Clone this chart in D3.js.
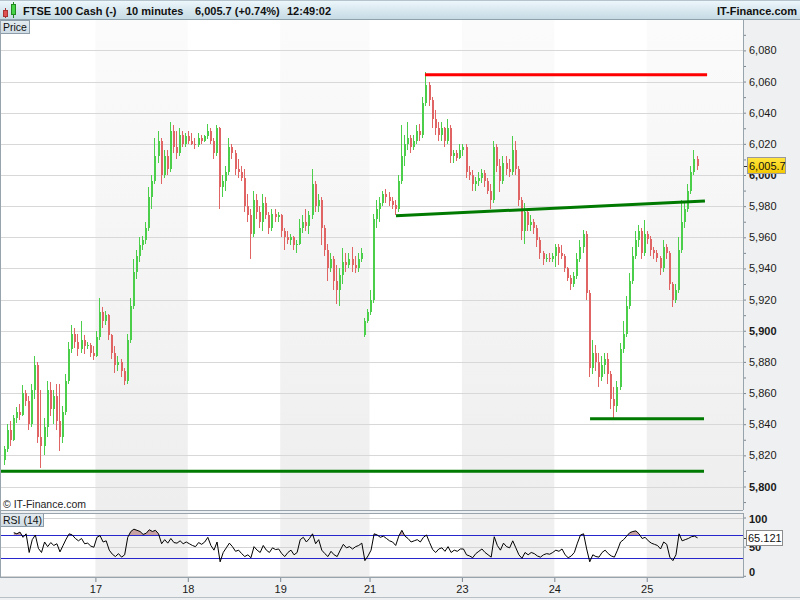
<!DOCTYPE html>
<html><head><meta charset="utf-8">
<script src="https://cdn.jsdelivr.net/npm/d3@7"></script>
<style>
body{margin:0;background:#fff}
svg{display:block;font-family:"Liberation Sans",Arial,sans-serif}
</style>
</head><body><svg id="c" width="800" height="600"></svg>
<script>
// ---------------- DATA ----------------
const opens = [
5817,5824,5836,5830,5844,5848,5846,5860,5855,5840,5862,5878,5832,5826,5838,5862,5850,5858,5842,5832,5848,5868,5888,5898,5893,5888,5894,5890,5891,5886,
5884,5896,5912,5906,5910,5897,5886,5878,5880,5874,5868,5894,5916,5938,5948,5955,5958,5966,5986,5996,6012,6022,6000,6012,6004,6028,6018,6014,6026,6020,
6025,6022,6020,6019,6024,6022,6025,6028,6022,6014,6030,5992,5996,6002,6018,6014,6004,6002,5998,5980,5974,5962,5984,5976,5970,5982,5974,5966,5975,5973,
5974,5964,5960,5958,5960,5955,5956,5966,5970,5967,5974,5994,5980,5984,5966,5952,5940,5946,5932,5926,5936,5944,5942,5946,5942,5940,5946,5897,5906,
5912,5920,5972,5978,5982,5988,5986,5983,5981,5978,5996,6012,6020,6024,6018,6022,6028,6026,6046,6058,6048,6036,6030,6026,6030,6022,6030,6012,6014,6011,
6016,6018,6002,6000,5994,5996,5998,6001,5996,5990,5984,6018,6006,5996,6008,6004,6002,6016,6004,5984,5964,5976,5968,5970,5966,5958,5950,5946,5947,5946,
5948,5954,5950,5948,5940,5934,5930,5935,5946,5954,5962,5924,5876,5886,5880,5870,5878,5882,5872,5856,5852,5864,5888,5898,5916,5932,5948,5958,5964,5950,
5962,5959,5952,5950,5947,5940,5954,5950,5930,5920,5926,5952,5970,5978,5990,6002,6010
];
const highs = [
5826,5840,5842,5846,5851,5853,5865,5862,5858,5866,5884,5880,5862,5844,5868,5867,5862,5866,5866,5852,5872,5893,5904,5902,5898,5906,5897,5893,5892,5890,
5900,5921,5915,5913,5911,5898,5890,5884,5882,5876,5898,5921,5946,5952,5960,5961,5970,5992,6000,6024,6028,6024,6016,6016,6034,6032,6028,6030,6028,6027,
6028,6027,6024,6027,6026,6026,6033,6030,6024,6032,6031,6000,6006,6024,6020,6016,6010,6006,6004,5988,5978,5990,5988,5980,5988,5986,5976,5978,5978,5976,
5975,5966,5964,5962,5961,5958,5972,5974,5978,5977,6004,5996,5988,5986,5968,5956,5950,5948,5942,5940,5953,5950,5950,5954,5948,5950,5953,5908,5914,
5926,5975,5984,5986,5990,5991,5989,5986,5984,6000,6032,6026,6034,6026,6026,6032,6033,6050,6066,6060,6050,6042,6034,6034,6031,6036,6032,6016,6016,6020,
6020,6020,6006,6003,5999,6002,6004,6003,5998,5994,6022,6020,6010,6012,6012,6010,6025,6022,6006,5986,5982,5978,5974,5972,5968,5960,5951,5949,5950,5950,
5956,5956,5955,5949,5941,5936,5938,5950,5958,5965,5964,5926,5894,5891,5886,5884,5886,5886,5874,5864,5868,5892,5906,5922,5937,5954,5964,5968,5966,5971,
5964,5961,5954,5952,5948,5958,5956,5951,5931,5930,5960,5984,5982,5994,6006,6016,6012
];
const lows = [
5814,5822,5826,5829,5841,5843,5845,5852,5836,5838,5856,5828,5812,5820,5832,5845,5840,5836,5823,5828,5846,5866,5886,5889,5884,5886,5885,5888,5883,5881,
5883,5894,5902,5904,5894,5882,5873,5874,5870,5865,5866,5892,5914,5933,5944,5952,5956,5964,5978,5994,6008,5994,5998,6000,6002,6014,6010,6012,6018,6018,
6020,6019,6017,6018,6020,6021,6023,6020,6010,6012,5978,5986,5990,6000,6010,6000,5998,5996,5976,5970,5946,5960,5972,5966,5964,5972,5962,5964,5970,5970,
5960,5952,5956,5955,5952,5950,5955,5963,5964,5962,5972,5976,5976,5955,5948,5932,5938,5926,5917,5916,5930,5938,5940,5938,5937,5938,5944,5896,5905,
5910,5918,5966,5970,5980,5982,5980,5978,5974,5976,5994,6006,6016,6014,6016,6020,6022,6024,6044,6044,6030,6026,6022,6022,6018,6020,6008,6008,6009,6010,
6012,5998,5997,5990,5990,5993,5995,5992,5988,5978,5982,6002,5989,5994,6000,5999,6000,6000,5980,5958,5956,5964,5964,5962,5954,5946,5942,5944,5944,5944,
5941,5942,5946,5938,5932,5926,5928,5933,5944,5950,5920,5870,5872,5874,5864,5868,5872,5866,5850,5843,5848,5862,5886,5896,5914,5930,5946,5954,5946,5948,
5956,5948,5946,5944,5936,5938,5946,5926,5915,5918,5924,5950,5966,5976,5988,6000,6003
];
const closes = [
5824,5836,5830,5844,5848,5846,5860,5855,5840,5862,5878,5832,5826,5838,5862,5850,5858,5842,5832,5848,5868,5888,5898,5893,5888,5894,5890,5891,5886,5884,
5896,5912,5906,5910,5897,5886,5878,5880,5874,5868,5894,5916,5938,5948,5955,5958,5966,5986,5996,6012,6022,6000,6012,6004,6028,6018,6014,6026,6020,6025,
6022,6020,6019,6024,6022,6025,6028,6022,6014,6030,5992,5996,6002,6018,6014,6004,6002,5998,5980,5974,5962,5984,5976,5970,5982,5974,5966,5975,5973,5974,
5964,5960,5958,5960,5955,5956,5966,5970,5967,5974,5994,5980,5984,5966,5952,5940,5946,5932,5926,5936,5944,5942,5946,5942,5940,5946,5950,5906,5912,
5920,5972,5978,5982,5988,5986,5983,5981,5978,5996,6012,6020,6024,6018,6022,6028,6026,6046,6058,6048,6036,6030,6026,6030,6022,6030,6012,6014,6011,6016,
6018,6002,6000,5994,5996,5998,6001,5996,5990,5984,6018,6006,5996,6008,6004,6002,6016,6004,5984,5964,5976,5968,5970,5966,5958,5950,5946,5947,5946,5948,
5954,5950,5948,5940,5934,5930,5935,5946,5954,5962,5924,5876,5886,5880,5870,5878,5882,5872,5856,5852,5864,5888,5898,5916,5932,5948,5958,5964,5950,5962,
5959,5952,5950,5947,5940,5954,5950,5930,5920,5926,5952,5970,5978,5990,6002,6010,6005.7
];
const rsiValues = [
null,null,null,74,72,75,66,72,40,62,70,47,40,58,50,57,52,55,41,52,
63,72,70,64,60,64,55,56,51,49,66,69,58,60,44,37,33,38,32,36,
66,76,80,78,76,71,73,79,76,78,72,55,62,56,64,57,56,60,55,58,
55,52,50,57,54,58,66,52,44,58,24,40,48,56,50,42,44,38,33,36,
31,50,44,40,52,44,40,48,45,46,38,33,40,44,36,40,62,66,58,64,
72,55,62,44,38,33,42,36,33,44,54,48,50,46,50,52,56,26,34,44,
72,70,66,68,64,60,58,52,68,78,68,64,58,60,62,58,66,70,57,45,
40,46,48,42,50,40,44,42,46,46,36,34,31,38,42,46,40,36,32,67,
52,44,56,50,48,60,48,36,30,40,36,40,38,34,32,36,38,37,40,44,
42,46,36,31,34,40,56,70,72,46,24,36,33,32,40,44,38,34,32,44,
58,62,68,74,76,77,72,64,66,60,56,54,52,46,58,54,32,26,36,72,
60,62,64,67,68,65.121
];
const dayLabels = ["17","18","19","21","23","24","25"];
const dayStartBars = [30,60,90,119,149,179,209];
const priceTicks = [5800,5820,5840,5860,5880,5900,5920,5940,5960,5980,6000,6020,6040,6060,6080];
const priceMinorTicks = [5790,5810,5830,5850,5870,5890,5910,5930,5950,5970,5990,6010,6030,6050,6070,6090];
const rsiTicks = [0,50,100];
const rsiLevels = [30,70];
// trend lines: [startBar, startPrice, endBar, endPrice]
const resistanceLine = [137.0, 6064.4, 228.6, 6064.4];
const supportLines = [
  [127.6, 5973.8, 227.9, 5983.3],
  [190.6, 5843.5, 227.6, 5843.5],
  [-1.0, 5809.8, 227.6, 5809.8]
];
const lastPrice = 6005.7;
const lastRsi = 65.121;

// ---------------- LAYOUT ----------------
const W = 800, H = 600;
const plotR = 743, mainTop = 20, mainBot = 510, rsiTop = 513, rsiBot = 578;
const svg = d3.select('#c');
const defs = svg.append('defs');

function grad(id, stops){
  const g = defs.append('linearGradient').attr('id', id).attr('x1',0).attr('y1',0).attr('x2',0).attr('y2',1);
  stops.forEach(s => g.append('stop').attr('offset', s[0]).attr('stop-color', s[1]));
}
grad('hdr', [['0%','#eef8fc'],['100%','#c4d9e3']]);
grad('band', [['0%','#fbfbfb'],['100%','#eeeeee']]);
grad('tag', [['0%','#ffe640'],['100%','#f4c800']]);
grad('lbl', [['0%','#e4ecf1'],['100%','#cfdbe3']]);

defs.append('clipPath').attr('id','clipMain').append('rect')
  .attr('x',0).attr('y',mainTop).attr('width',plotR).attr('height',mainBot-mainTop);
defs.append('clipPath').attr('id','clipRsi').append('rect')
  .attr('x',0).attr('y',rsiTop).attr('width',plotR).attr('height',rsiBot-rsiTop);

const x = d3.scaleLinear().domain([0, 240.26]).range([3, 743]);
const y = d3.scaleLinear().domain([5800, 6080]).range([486.5, 50.4]);
const yr = d3.scaleLinear().domain([0, 100]).range([575.8, 517.5]);

defs.append('clipPath').attr('id','clipOB').append('rect')
  .attr('x',0).attr('y',rsiTop).attr('width',plotR).attr('height',yr(70)-rsiTop);

// page background
svg.append('rect').attr('width',W).attr('height',H).attr('fill','#eff0f1');

// header
svg.append('rect').attr('x',0).attr('y',0).attr('width',W).attr('height',20).attr('fill','url(#hdr)');
svg.append('line').attr('x1',0).attr('x2',W).attr('y1',0.5).attr('y2',0.5).attr('stroke','#b5c3cc');
svg.append('line').attr('x1',0).attr('x2',W).attr('y1',19.5).attr('y2',19.5).attr('stroke','#8ea1ad');
// icon
const ic = svg.append('g');
ic.append('line').attr('x1',5.5).attr('x2',5.5).attr('y1',8).attr('y2',18).attr('stroke','#a33');
ic.append('rect').attr('x',3.5).attr('y',10.5).attr('width',4).attr('height',6).attr('fill','#e05252').attr('stroke','#a33');
ic.append('line').attr('x1',13.5).attr('x2',13.5).attr('y1',2).attr('y2',18).attr('stroke','#282');
ic.append('rect').attr('x',11.5).attr('y',4.5).attr('width',4).attr('height',10).attr('fill','#48d448').attr('stroke','#282');

const hdrTexts = [[23,'FTSE 100 Cash (-)'],[126,'10 minutes'],[195,'6,005.7 (+0.74%)'],[287,'12:49:02']];
svg.selectAll('text.hdr').data(hdrTexts).join('text').attr('class','hdr')
  .attr('x',d=>d[0]).attr('y',15).attr('font-size',11).attr('font-weight','bold').attr('fill','#111').text(d=>d[1]);
svg.append('text').attr('x',797).attr('y',15).attr('text-anchor','end').attr('font-size',11)
  .attr('font-weight','bold').attr('fill','#111').text('IT-Finance.com');

// ---------------- MAIN PANEL ----------------
svg.append('rect').attr('x',0).attr('y',mainTop).attr('width',plotR).attr('height',mainBot-mainTop).attr('fill','#fff');
svg.append('rect').attr('x',0).attr('y',rsiTop).attr('width',plotR).attr('height',rsiBot-rsiTop).attr('fill','#fff');

const bounds = [0, ...dayStartBars, 240.26];
const shaded = [];
for (let k = 1; k < bounds.length - 1; k += 2) shaded.push([bounds[k], bounds[k+1]]);
svg.append('g').selectAll('rect').data(shaded).join('rect')
  .attr('x', d=>x(d[0])).attr('width', d=>x(d[1])-x(d[0]))
  .attr('y', mainTop).attr('height', mainBot-mainTop).attr('fill','url(#band)');
svg.append('g').selectAll('rect').data(shaded).join('rect')
  .attr('x', d=>x(d[0])).attr('width', d=>x(d[1])-x(d[0]))
  .attr('y', rsiTop).attr('height', rsiBot-rsiTop).attr('fill','#f0f0f0');

// gridlines
svg.append('g').selectAll('line').data(priceTicks).join('line')
  .attr('x1',0).attr('x2',plotR).attr('y1',d=>Math.round(y(d))+0.5).attr('y2',d=>Math.round(y(d))+0.5)
  .attr('stroke','#d8d8d8');

// candles
const bars = closes.map((c,i)=>({i, o:opens[i], h:highs[i], l:lows[i], c}));
const cg = svg.append('g').attr('clip-path','url(#clipMain)').attr('shape-rendering','crispEdges');
const col = d => d.c >= d.o ? '#4bcf4b' : '#e06464';
const bx = d => Math.round(x(d.i+0.5)-1);
cg.selectAll('line').data(bars).join('line')
  .attr('x1', d=>bx(d)+0.5).attr('x2', d=>bx(d)+0.5)
  .attr('y1', d=>y(d.h)).attr('y2', d=>y(d.l)).attr('stroke', col);
cg.selectAll('rect').data(bars).join('rect')
  .attr('x', bx).attr('width', 2)
  .attr('y', d=>y(Math.max(d.o,d.c))).attr('height', d=>Math.max(1, Math.abs(y(d.o)-y(d.c))))
  .attr('fill', col);

// trend lines
const tg = svg.append('g').attr('clip-path','url(#clipMain)');
tg.append('line').attr('x1',x(resistanceLine[0])).attr('y1',y(resistanceLine[1]))
  .attr('x2',x(resistanceLine[2])).attr('y2',y(resistanceLine[3]))
  .attr('stroke','#ff0000').attr('stroke-width',3);
tg.selectAll('line.sup').data(supportLines).join('line').attr('class','sup')
  .attr('x1',d=>x(d[0])).attr('y1',d=>y(d[1])).attr('x2',d=>x(d[2])).attr('y2',d=>y(d[3]))
  .attr('stroke','#007a00').attr('stroke-width',3);

svg.append('text').attr('x',3).attr('y',508).attr('font-size',10.5).attr('fill','#222').text('\u00a9 IT-Finance.com');

// Price label box
svg.append('rect').attr('x',0.5).attr('y',20.5).attr('width',29).attr('height',13).attr('fill','url(#lbl)').attr('stroke','#8c9ca8');
svg.append('text').attr('x',3).attr('y',31).attr('font-size',10.5).attr('fill','#111').text('Price');

// price axis
const ya = svg.append('g').attr('transform',`translate(${plotR},0)`)
  .call(d3.axisRight(y).tickValues(priceTicks).tickFormat(d3.format(',')).tickSize(3).tickPadding(3));
const yaMinor = svg.append('g').attr('transform',`translate(${plotR},0)`)
  .call(d3.axisRight(y).tickValues(priceMinorTicks).tickFormat('').tickSize(3));
[ya, yaMinor].forEach(a => { a.select('.domain').remove(); a.selectAll('line').attr('stroke','#7d8790'); });
ya.selectAll('text').attr('font-size',11).attr('fill','#1a1a1a').attr('font-family','"Liberation Sans",Arial,sans-serif')
  .attr('font-weight', d => d % 100 === 0 ? 'bold' : 'normal');

// last price tag
svg.append('line').attr('x1',plotR).attr('x2',plotR+4).attr('y1',Math.round(y(lastPrice))+0.5).attr('y2',Math.round(y(lastPrice))+0.5).attr('stroke','#333');
svg.append('rect').attr('x',747.5).attr('y',Math.round(y(lastPrice))-8.5).attr('width',38).attr('height',16)
  .attr('fill','url(#tag)').attr('stroke','#9a9a9a');
svg.append('text').attr('x',749).attr('y',y(lastPrice)+4).attr('font-size',11).attr('fill','#111').text(d3.format(',.1f')(lastPrice));

// ---------------- RSI PANEL ----------------
svg.append('g').selectAll('line').data(rsiTicks).join('line')
  .attr('x1',0).attr('x2',plotR).attr('y1',d=>Math.round(yr(d))+0.5).attr('y2',d=>Math.round(yr(d))+0.5)
  .attr('stroke','#d4d4d4');
const rsiData = rsiValues.map((v,i)=>({i, v}));
const rg = svg.append('g').attr('clip-path','url(#clipRsi)');
rg.append('path').datum(rsiData).attr('clip-path','url(#clipOB)')
  .attr('d', d3.area().defined(d=>d.v!=null).x(d=>x(d.i+0.5)).y0(yr(70)).y1(d=>yr(d.v)))
  .attr('fill','#c8a2a2');
rg.selectAll('line.lvl').data(rsiLevels).join('line').attr('class','lvl')
  .attr('x1',0).attr('x2',plotR).attr('y1',d=>Math.round(yr(d))+0.5).attr('y2',d=>Math.round(yr(d))+0.5)
  .attr('stroke','#2626cc');
rg.append('path').datum(rsiData)
  .attr('d', d3.line().defined(d=>d.v!=null).x(d=>x(d.i+0.5)).y(d=>yr(d.v)))
  .attr('fill','none').attr('stroke','#000').attr('stroke-width',1);

svg.append('rect').attr('x',0.5).attr('y',513.5).attr('width',43).attr('height',13).attr('fill','url(#lbl)').attr('stroke','#8c9ca8');
svg.append('text').attr('x',3).attr('y',524).attr('font-size',10.5).attr('fill','#111').text('RSI (14)');

const ra = svg.append('g').attr('transform',`translate(${plotR},0)`)
  .call(d3.axisRight(yr).tickValues(rsiTicks).tickSize(3).tickPadding(3));
ra.select('.domain').remove();
ra.selectAll('line').attr('stroke','#7d8790');
ra.selectAll('text').attr('font-size',11).attr('font-weight','bold').attr('fill','#1a1a1a')
  .attr('font-family','"Liberation Sans",Arial,sans-serif')
  .attr('dy', d => d === 0 ? '-0.05em' : (d === 100 ? '0.45em' : '0.32em'));

svg.append('line').attr('x1',plotR).attr('x2',plotR+4).attr('y1',Math.round(yr(lastRsi))+0.5).attr('y2',Math.round(yr(lastRsi))+0.5).attr('stroke','#333');
svg.append('rect').attr('x',746.5).attr('y',Math.round(yr(lastRsi))-7.5).attr('width',36).attr('height',15)
  .attr('fill','#fff').attr('stroke','#8c8c8c');
svg.append('text').attr('x',748).attr('y',yr(lastRsi)+4).attr('font-size',11).attr('fill','#111').text(lastRsi.toFixed(3));

// ---------------- TIME AXIS ----------------
const xa = svg.append('g').attr('transform',`translate(0,${rsiBot})`)
  .call(d3.axisBottom(x).tickValues(dayStartBars).tickFormat((d,i)=>dayLabels[i]).tickSize(4).tickPadding(3));
xa.select('.domain').remove();
xa.selectAll('line').attr('stroke','#7d8790');
xa.selectAll('text').attr('font-size',11).attr('fill','#1a1a1a').attr('font-family','"Liberation Sans",Arial,sans-serif');

// frames
const fr = svg.append('g').attr('fill','none').attr('stroke','#97a3ad').attr('shape-rendering','crispEdges');
fr.append('line').attr('x1',0.5).attr('x2',0.5).attr('y1',mainTop).attr('y2',rsiBot);
fr.append('line').attr('x1',plotR+0.5).attr('x2',plotR+0.5).attr('y1',mainTop).attr('y2',mainBot);
fr.append('line').attr('x1',plotR+0.5).attr('x2',plotR+0.5).attr('y1',rsiTop).attr('y2',rsiBot);
fr.append('line').attr('x1',0).attr('x2',plotR).attr('y1',mainBot+0.5).attr('y2',mainBot+0.5);
fr.append('line').attr('x1',0).attr('x2',plotR).attr('y1',rsiTop+0.5).attr('y2',rsiTop+0.5);
fr.append('line').attr('x1',0).attr('x2',plotR).attr('y1',rsiBot-0.5).attr('y2',rsiBot-0.5);
fr.append('line').attr('x1',0).attr('x2',W).attr('y1',597.5).attr('y2',597.5).attr('stroke','#b8c0c6');
</script>
</body></html>
